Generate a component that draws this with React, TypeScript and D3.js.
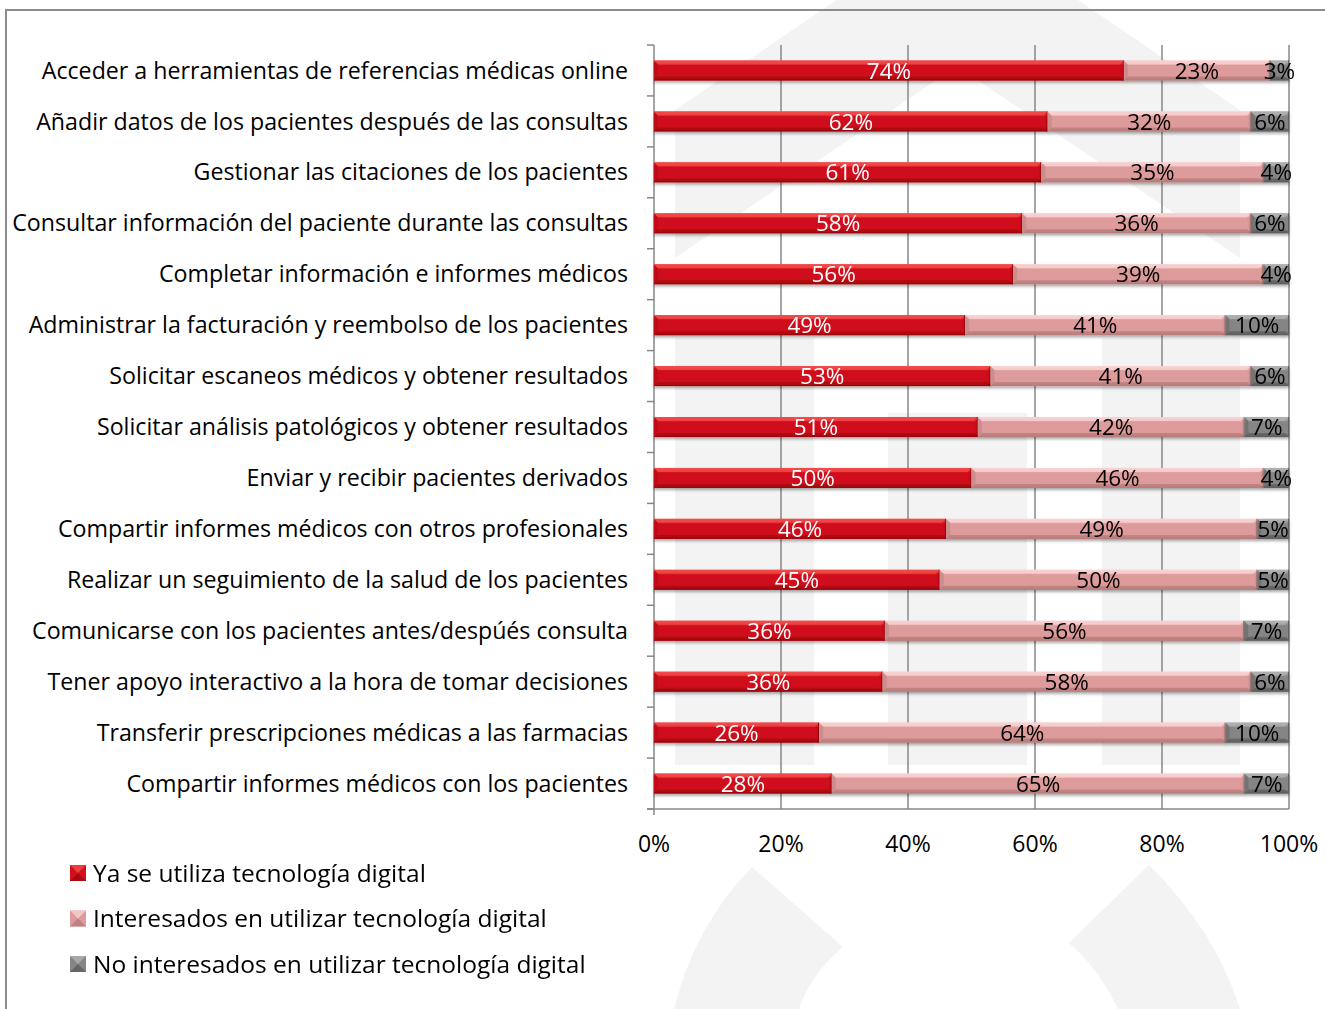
import React from "react";
import * as d3 from "d3";

const categories = [
  "Acceder a herramientas de referencias médicas online",
  "Añadir datos de los pacientes después de las consultas",
  "Gestionar las citaciones de los pacientes",
  "Consultar información del paciente durante las consultas",
  "Completar información e informes médicos",
  "Administrar la facturación y reembolso de los pacientes",
  "Solicitar escaneos médicos y obtener resultados",
  "Solicitar análisis patológicos y obtener resultados",
  "Enviar y recibir pacientes derivados",
  "Compartir informes médicos con otros profesionales",
  "Realizar un seguimiento de la salud de los pacientes",
  "Comunicarse con los pacientes antes/despúés consulta",
  "Tener apoyo interactivo a la hora de tomar decisiones",
  "Transferir prescripciones médicas a las farmacias",
  "Compartir informes médicos con los pacientes",
];

const yaUtiliza = [74, 62, 61, 58, 56, 49, 53, 51, 50, 46, 45, 36, 36, 26, 28];
const interesados = [23, 32, 35, 36, 39, 41, 41, 42, 46, 49, 50, 56, 58, 64, 65];
const noInteresados = [3, 6, 4, 6, 4, 10, 6, 7, 4, 5, 5, 7, 6, 10, 7];

const seriesNames = [
  "Ya se utiliza tecnología digital",
  "Interesados en utilizar tecnología digital",
  "No interesados en utilizar tecnología digital",
];
const xTicks = [0, 0.2, 0.4, 0.6, 0.8, 1];

const FONT = "'Open Sans', 'Noto Sans', sans-serif";

const palettes = [
  { top: "#f24a4a", mid: "#d0101a", bot: "#a3060c", left: "#b80a12", text: "#ffffff" },
  { top: "#f9d2d2", mid: "#dd9c9b", bot: "#b87c7b", left: "#c98a89", text: "#000000" },
  { top: "#b0b0b0", mid: "#858585", bot: "#5e5e5e", left: "#6e6e6e", text: "#000000" },
];

export default function App() {
  const W = 1325;
  const H = 1009;
  const x0 = 654;
  const x1 = 1289;
  const yTop = 45;
  const yBot = 809;

  const x = d3.scaleLinear().domain([0, 1]).range([x0, x1]);
  const y = d3
    .scaleBand<string>()
    .domain(categories)
    .range([yTop, yBot])
    .paddingInner(0.607)
    .paddingOuter(0.3035);

  const rows = categories.map((c, i) => ({
    cat: c,
    a: yaUtiliza[i],
    b: interesados[i],
    c: noInteresados[i],
  }));
  const stack = d3
    .stack<any>()
    .keys(["a", "b", "c"])
    .offset(d3.stackOffsetExpand);
  const series = stack(rows);
  const rawVals = [yaUtiliza, interesados, noInteresados];

  const step = y.step();
  const bh = y.bandwidth();
  const bev = 4;

  const axisColor = "#878787";

  return (
    <svg width={W} height={H} style={{ display: "block", position: "absolute", left: 0, top: 0 }}>
      <defs>
        <filter id="sh" x="-5%" y="-30%" width="110%" height="180%">
          <feDropShadow dx="0" dy="2" stdDeviation="1.5" floodColor="#000" floodOpacity="0.35" />
        </filter>
        {palettes.map((p, i) => (
          <linearGradient key={i} id={`g${i}`} x1="0" y1="0" x2="0" y2="1">
            <stop offset="0" stopColor={p.top} />
            <stop offset="0.25" stopColor={p.mid} />
            <stop offset="0.8" stopColor={p.mid} />
            <stop offset="1" stopColor={p.bot} />
          </linearGradient>
        ))}
      </defs>
      <rect x={0} y={0} width={W} height={H} fill="#ffffff" />

      {/* watermark */}
      <g fill="#f3f3f3">
        <path d="M675,110 L957,-82 L1240,110 L1240,258 L957,66 L675,258 Z" />
        <rect x={675} y={338} width={139} height={427} />
        <rect x={888} y={413} width={139} height={352} />
        <rect x={1102} y={338} width={138} height={427} />
        <path d="M752,867 L843,947 Q810,975 799,1009 L674,1009 Q695,925 752,867 Z" />
        <path d="M1149,865 Q1215,930 1240,1009 L1118,1009 Q1100,970 1069,943 Z" />
      </g>

      {/* frame */}
      <path d={`M6,${H} L6,10 L${W},10`} fill="none" stroke="#8c8c8c" strokeWidth={2} />

      {/* gridlines */}
      {xTicks.slice(1).map((t) => (
        <line key={t} x1={x(t)} x2={x(t)} y1={yTop} y2={yBot} stroke={axisColor} strokeWidth={1.5} />
      ))}

      {/* axes */}
      <line x1={x0} x2={x0} y1={yTop} y2={yBot + 6} stroke={axisColor} strokeWidth={1.5} />
      {d3.range(categories.length + 1).map((i) => (
        <line key={i} x1={x0 - 7} x2={x0} y1={yTop + i * step} y2={yTop + i * step} stroke={axisColor} strokeWidth={1.5} />
      ))}
      <line x1={x0 - 7} x2={x1} y1={yBot} y2={yBot} stroke={axisColor} strokeWidth={1.5} />
      {xTicks.map((t) => (
        <text key={t} x={x(t)} y={852} textAnchor="middle" fontFamily={FONT} fontSize={23} fill="#000">
          {`${Math.round(t * 100)}%`}
        </text>
      ))}

      {/* category labels */}
      {categories.map((c) => (
        <text
          key={c}
          x={628}
          y={(y(c) as number) + bh / 2}
          dy="0.35em"
          textAnchor="end"
          fontFamily={FONT}
          fontSize={23.2}
          fill="#000"
        >
          {c}
        </text>
      ))}

      {/* bars */}
      {series.map((s, si) => {
        const p = palettes[si];
        return (
          <g key={si} filter="url(#sh)">
            {s.map((d, i) => {
              const xa = x(d[0]);
              const xb = x(d[1]);
              const yy = y(categories[i]) as number;
              const w = xb - xa;
              const b = Math.min(bev, w / 2);
              return (
                <g key={i}>
                  <rect x={xa} y={yy} width={w} height={bh} fill={`url(#g${si})`} />
                  <path
                    d={`M${xa},${yy} L${xa + b},${yy + b} L${xa + b},${yy + bh - b} L${xa},${yy + bh} Z`}
                    fill={p.left}
                    opacity={0.8}
                  />
                  <path
                    d={`M${xa},${yy} L${xb},${yy} L${xb - b},${yy + b} L${xa + b},${yy + b} Z`}
                    fill={p.top}
                    opacity={0.8}
                  />
                  <path
                    d={`M${xa},${yy + bh} L${xb},${yy + bh} L${xb - b},${yy + bh - b} L${xa + b},${yy + bh - b} Z`}
                    fill={p.bot}
                    opacity={0.7}
                  />
                  <line x1={xb - 0.5} x2={xb - 0.5} y1={yy} y2={yy + bh} stroke={p.bot} strokeWidth={1} />
                </g>
              );
            })}
          </g>
        );
      })}

      {/* value labels */}
      {series.map((s, si) =>
        s.map((d, i) => {
          const cx = (x(d[0]) + x(d[1])) / 2;
          const yy = (y(categories[i]) as number) + bh / 2;
          return (
            <text
              key={`${si}-${i}`}
              x={cx}
              y={yy}
              dy="0.36em"
              textAnchor="middle"
              fontFamily={FONT}
              fontSize={22.5}
              fill={palettes[si].text}
            >
              {`${rawVals[si][i]}%`}
            </text>
          );
        })
      )}

      {/* legend */}
      {seriesNames.map((n, i) => {
        const cy = 873 + i * 45.5;
        const p = palettes[i];
        return (
          <g key={n}>
            <rect x={70} y={cy - 8} width={16} height={16} fill={p.mid} />
            <path d={`M70,${cy - 8} L86,${cy - 8} L78,${cy} Z`} fill={p.top} opacity={0.8} />
            <path d={`M70,${cy + 8} L86,${cy + 8} L78,${cy} Z`} fill={p.bot} opacity={0.8} />
            <text x={93} y={cy} dy="0.35em" fontFamily={FONT} fontSize={24.5} fill="#000">
              {n}
            </text>
          </g>
        );
      })}
    </svg>
  );
}
